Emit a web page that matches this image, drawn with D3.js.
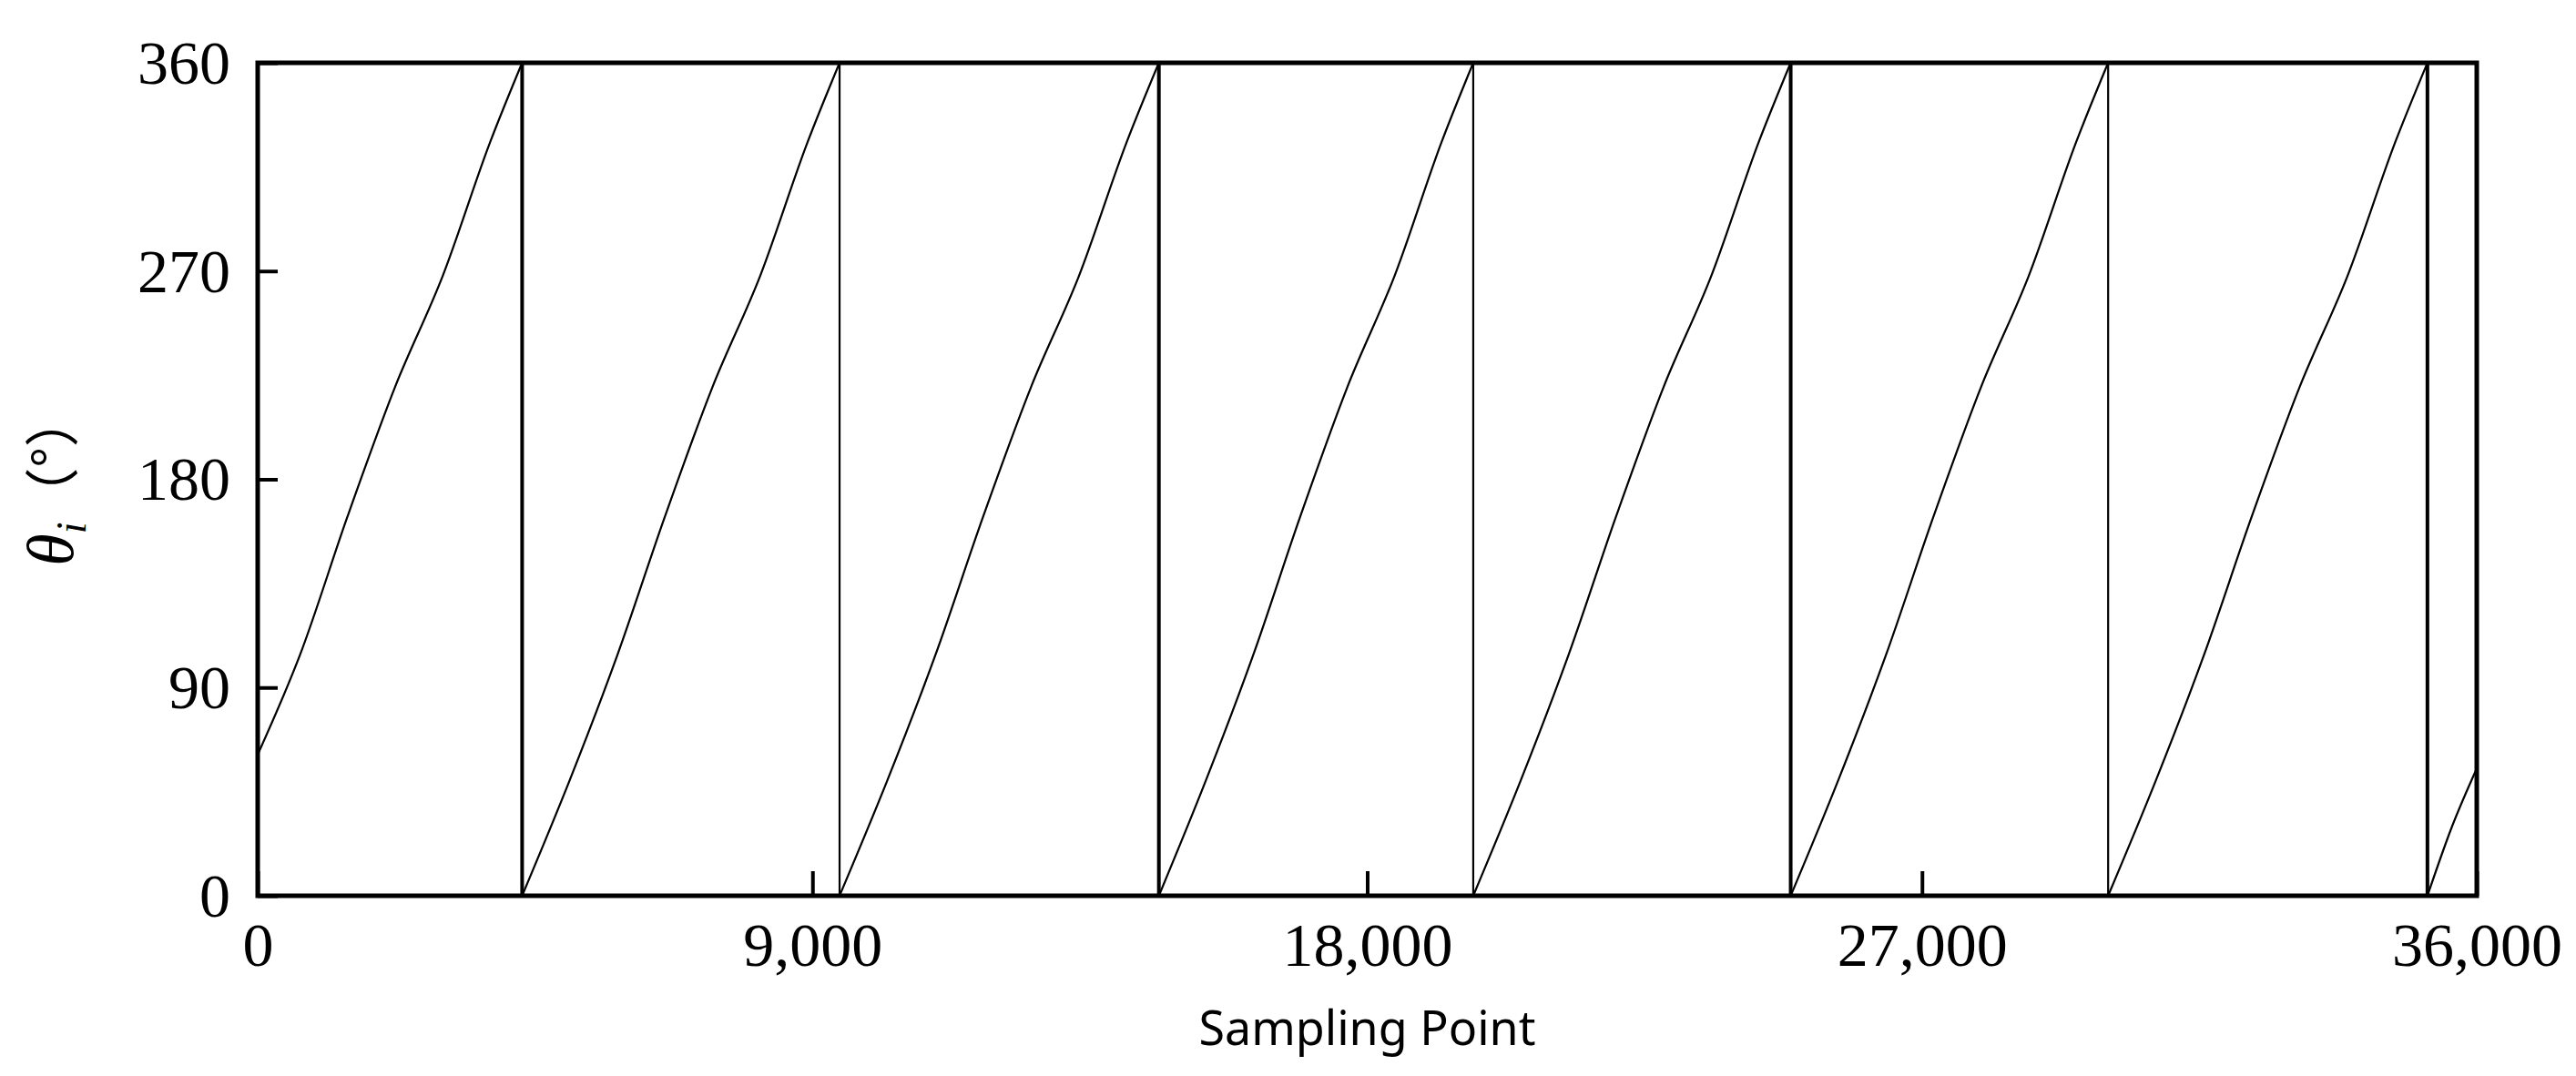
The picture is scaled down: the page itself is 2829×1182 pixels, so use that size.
<!DOCTYPE html>
<html>
<head>
<meta charset="utf-8">
<script src="https://cdn.jsdelivr.net/npm/d3@7"></script>
<style>
  body { margin: 0; background: #fff; }
  .tick text { font-family: "Liberation Serif", "DejaVu Serif", serif; }
</style>
</head>
<body>
<div id="vis"></div>
<script>
const FRAME_WIDTH = 2829;
const FRAME_HEIGHT = 1182;
const MARGINS = {left: 283, right: 109, top: 69, bottom: 198};

// x ticks and y ticks
const xTicks = [0, 9000, 18000, 27000, 36000];
const yTicks = [0, 90, 180, 270, 360];

// sampling points where the angle wraps from 360 back to 0
const resets = [4290, 9440, 14620, 19720, 24870, 30020, 35200];

// each cycle: sampling points and angle values (degrees)
const cycleX = [
  [0, 685, 1458, 2230, 3003, 3775, 4290],
  [4290, 5063, 5835, 6608, 7380, 8153, 8925, 9440],
  [9440, 10217, 10994, 11771, 12548, 13325, 14102, 14620],
  [14620, 15385, 16150, 16915, 17680, 18445, 19210, 19720],
  [19720, 20493, 21265, 22038, 22810, 23583, 24355, 24870],
  [24870, 25643, 26415, 27188, 27960, 28733, 29505, 30020],
  [30020, 30797, 31574, 32351, 33128, 33905, 34682, 35200],
  [35200, 35600, 36000]
];
const cycleY = [
  [61, 104, 164, 220, 268, 326, 360],
  [0, 50, 104, 164, 220, 268, 326, 360],
  [0, 50, 104, 164, 220, 268, 326, 360],
  [0, 50, 104, 164, 220, 268, 326, 360],
  [0, 50, 104, 164, 220, 268, 326, 360],
  [0, 50, 104, 164, 220, 268, 326, 360],
  [0, 50, 104, 164, 220, 268, 326, 360],
  [0, 30, 55]
];

const svg = d3.select("#vis")
  .append("svg")
    .attr("width", FRAME_WIDTH)
    .attr("height", FRAME_HEIGHT);

const W = FRAME_WIDTH - MARGINS.left - MARGINS.right;
const H = FRAME_HEIGHT - MARGINS.top - MARGINS.bottom;

const x = d3.scaleLinear().domain([0, 36000]).range([MARGINS.left, MARGINS.left + W]);
const y = d3.scaleLinear().domain([0, 360]).range([MARGINS.top + H, MARGINS.top]);

// data line
const line = d3.line()
  .x(d => x(d[0]))
  .y(d => y(d[1]))
  .curve(d3.curveMonotoneX);

cycleX.forEach((xs, i) => {
  svg.append("path")
    .datum(xs.map((v, j) => [v, cycleY[i][j]]))
    .attr("d", line)
    .attr("fill", "none")
    .attr("stroke", "#000")
    .attr("stroke-width", 2.2);
});

svg.selectAll(".drop")
  .data(resets)
  .join("line")
    .attr("x1", d => x(d)).attr("x2", d => x(d))
    .attr("y1", y(360)).attr("y2", y(0))
    .attr("stroke", "#000")
    .attr("stroke-width", (d, i) => (i % 2 === 0 ? 4 : 2.2));

// axes
const xAxis = svg.append("g")
  .attr("transform", `translate(0,${MARGINS.top + H})`)
  .call(d3.axisBottom(x).tickValues(xTicks).tickFormat(d3.format(",")).tickSize(-27).tickPadding(26));
const yAxis = svg.append("g")
  .attr("transform", `translate(${MARGINS.left},0)`)
  .call(d3.axisLeft(y).tickValues(yTicks).tickSize(-22).tickPadding(30));

[xAxis, yAxis].forEach(g => {
  g.select(".domain").remove();
  g.selectAll(".tick line").attr("stroke", "#000").attr("stroke-width", 4);
  g.selectAll(".tick text").attr("fill", "#000").style("font-size", "68px");
});
xAxis.selectAll(".tick text").attr("dy", "0.75em");
yAxis.selectAll(".tick text").attr("dy", "0.33em");

// frame
svg.append("rect")
  .attr("x", MARGINS.left).attr("y", MARGINS.top)
  .attr("width", W).attr("height", H)
  .attr("fill", "none")
  .attr("stroke", "#000")
  .attr("stroke-width", 5);

// labels
svg.append("text")
  .attr("x", MARGINS.left + W / 2)
  .attr("y", 1148)
  .attr("text-anchor", "middle")
  .style("font-family", "'Noto Sans', 'Open Sans', sans-serif")
  .style("font-size", "52px")
  .text("Sampling Point");

const yl = svg.append("text")
  .attr("transform", `translate(80,${MARGINS.top + H / 2}) rotate(-90)`)
  .attr("text-anchor", "middle")
  .style("font-family", "'Liberation Serif', serif")
  .style("font-size", "72px");
yl.append("tspan").style("font-style", "italic").text("θ");
yl.append("tspan").style("font-style", "italic").style("font-size", "46px").attr("dy", 14).text("i");
yl.append("tspan").attr("dy", -14).style("font-family", "'Noto Sans CJK SC', sans-serif").style("font-size", "60px").text("（°）");
</script>
</body>
</html>
